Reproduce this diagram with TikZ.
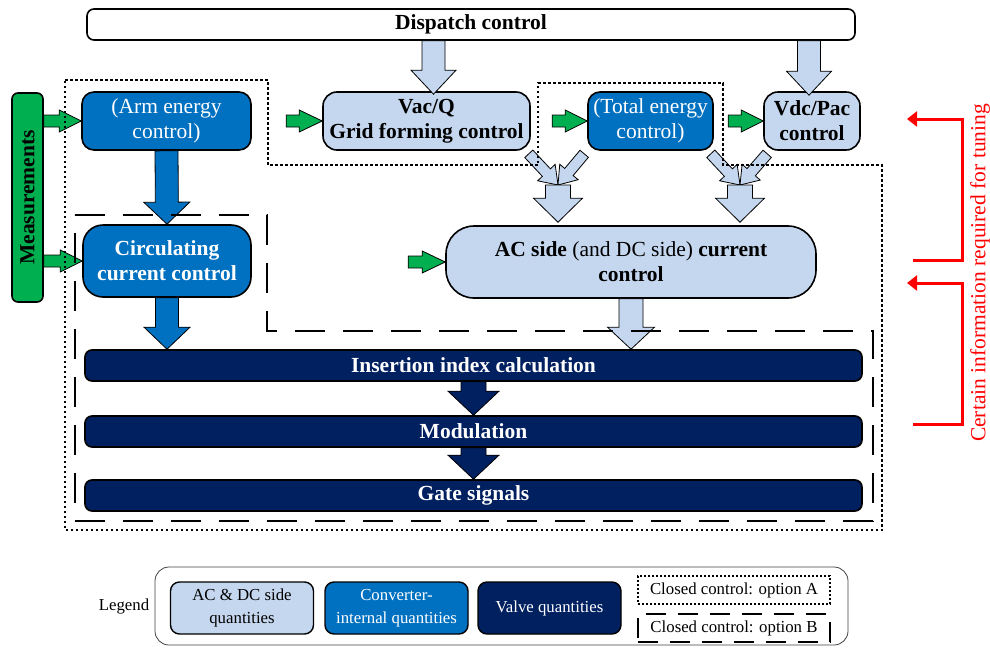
\documentclass[tikz,border=0pt]{standalone}
\usepackage{fontspec}
\usepackage{graphicx}
\setmainfont{Liberation Serif}
\usetikzlibrary{calc,arrows.meta}

\definecolor{acblue}{HTML}{C5D7EF}
\definecolor{convblue}{HTML}{0070C0}
\definecolor{valvenavy}{HTML}{002060}
\definecolor{measgreen}{HTML}{00B050}

\newcommand{\bigfont}{\fontsize{21.5}{25}\selectfont}
\newcommand{\legfont}{\fontsize{16.8}{23}\selectfont}

% block arrow: style, from, to, half shaft, half head, head length
\newcommand{\blockarrow}[6]{%
  \path (#2) coordinate (ba-s) (#3) coordinate (ba-e);
  \path ($(ba-e)!#6!(ba-s)$) coordinate (ba-h);
  \draw[#1] ($(ba-s)!#4!90:(ba-e)$) -- ($(ba-h)!#4!-90:(ba-s)$) -- ($(ba-h)!#5!-90:(ba-s)$)
    -- (ba-e) -- ($(ba-h)!#5!90:(ba-s)$) -- ($(ba-h)!#4!90:(ba-s)$) -- ($(ba-s)!#4!-90:(ba-e)$) -- cycle;
}

\tikzset{
  ctrlbox/.style={draw, line width=1.6pt, align=center, inner sep=2pt},
  acbox/.style={ctrlbox, fill=acblue, font=\bigfont\bfseries},
  convbox/.style={ctrlbox, fill=convblue, text=white, font=\bigfont},
  valvebox/.style={ctrlbox, fill=valvenavy, text=white, font=\bigfont\bfseries,
    rounded corners=7pt, minimum width=777pt, minimum height=31pt},
  acarrow/.style={draw, line width=0.8pt, fill=acblue},
  convarrow/.style={draw, line width=0.8pt, fill=convblue},
  valvearrow/.style={draw, line width=0.8pt, fill=valvenavy},
  measarrow/.style={draw, line width=0.8pt, fill=measgreen},
  optA/.style={line width=1.6pt, dash pattern=on 2.5pt off 2.5pt},
  optB/.style={line width=1.8pt, dash pattern=on 30pt off 18pt},
  tunearrow/.style={red, line width=3pt, -{Triangle[length=10pt,width=15pt]}},
  legbox/.style={draw, line width=1.4pt, rounded corners=9pt, align=center,
    minimum width=143pt, minimum height=52pt, font=\legfont, inner sep=1pt},
}

\begin{document}
\begin{tikzpicture}[x=1pt,y=-1pt]
 \useasboundingbox (0,0) rectangle (990,648);
 % control blocks
 \node[ctrlbox, fill=white, rounded corners=7pt, minimum width=768pt, minimum height=31pt, font=\bigfont\bfseries] (disp) at (471,24.5) {Dispatch control};
 \node[ctrlbox, fill=measgreen, rounded corners=6pt, minimum width=31pt, minimum height=209pt, font=\bigfont\bfseries] (meas) at (27.5,197.5) {\rotatebox{90}{Measurements}};
 \node[convbox, rounded corners=12pt, minimum width=169pt, minimum height=58pt] (arm) at (166.5,121) {(Arm energy\\control)};
 \node[acbox, rounded corners=14pt, minimum width=207pt, minimum height=58pt] (vacq) at (426.5,121) {Vac/Q\\Grid forming control};
 \node[convbox, rounded corners=12pt, minimum width=125pt, minimum height=58pt] (total) at (650.5,121) {(Total energy\\control)};
 \node[acbox, rounded corners=14pt, minimum width=96pt, minimum height=58pt] (vdcpac) at (812,121) {Vdc/Pac\\control};
 \node[convbox, font=\bigfont\bfseries, rounded corners=20pt, minimum width=168pt, minimum height=72pt] (circ) at (167,261) {Circulating\\current control};
 \node[acbox, font=\bigfont, rounded corners=28pt, minimum width=370pt, minimum height=72pt] (ac) at (631,262) {\textbf{AC side} (and DC side) \textbf{current}\\\textbf{control}};
 \node[valvebox] (ins) at (473.5,365.5) {Insertion index calculation};
 \node[valvebox] (mod) at (473.5,431.5) {Modulation};
 \node[valvebox] (gate) at (473.5,495.5) {Gate signals};

 % block arrows
 \blockarrow{acarrow}{$(disp.south -| vacq.north)+(7,0)$}{$(vacq.north)+(7,3)$}{11.5pt}{22.5pt}{24pt}
 \blockarrow{acarrow}{$(disp.south -| vdcpac.north)+(-3,0)$}{$(vdcpac.north)+(-3,4)$}{11.5pt}{22.5pt}{24pt}
 \blockarrow{convarrow}{arm.south}{circ.north}{11.5pt}{23pt}{22pt}
 \blockarrow{convarrow}{circ.south}{circ.south |- ins.north}{11.5pt}{23pt}{22pt}
 \blockarrow{acarrow}{ac.south}{ac.south |- ins.north}{12pt}{23.5pt}{22pt}
 \blockarrow{valvearrow}{ins.south}{mod.north}{12.5pt}{25.5pt}{24pt}
 \blockarrow{valvearrow}{mod.south}{gate.north}{12.5pt}{25.5pt}{24pt}

 \coordinate (m1) at (558,185);
 \coordinate (m2) at (740,185);
 \blockarrow{acarrow}{$(vacq.south east)+(-2,3)$}{m1}{5.5pt}{12pt}{17pt}
 \blockarrow{acarrow}{$(total.south west)+(-3,3)$}{m1}{5.5pt}{12pt}{17pt}
 \blockarrow{acarrow}{$(total.south east)+(-3,3)$}{m2}{5.5pt}{12pt}{17pt}
 \blockarrow{acarrow}{$(vdcpac.south west)+(4,3)$}{m2}{5.5pt}{12pt}{17pt}
 \blockarrow{acarrow}{m1}{$(m1 |- ac.north)+(0,-3)$}{12.5pt}{24.5pt}{24pt}
 \blockarrow{acarrow}{m2}{$(m2 |- ac.north)+(0,-3)$}{12.5pt}{24.5pt}{24pt}

 % measurement arrows
 \blockarrow{measarrow}{meas.east |- arm.west}{arm.west}{6pt}{11pt}{22pt}
 \blockarrow{measarrow}{meas.east |- circ.west}{circ.west}{6pt}{11pt}{22pt}
 \blockarrow{measarrow}{$(vacq.west)+(-36,0)$}{vacq.west}{6pt}{11pt}{23pt}
 \blockarrow{measarrow}{$(total.west)+(-35,0)$}{total.west}{6pt}{11pt}{22pt}
 \blockarrow{measarrow}{$(vdcpac.west)+(-35,0)$}{vdcpac.west}{6pt}{11pt}{22pt}
 \blockarrow{measarrow}{$(ac.west)+(-37,0)$}{ac.west}{6pt}{11pt}{23pt}

 % closed control options
 \draw[optA] (65,80) -- (268,80) -- (268,165) -- (538,165) -- (538,83) -- (723,83) -- (723,165)
   -- (882,165) -- (882,530) -- (65,530) -- cycle;
 \draw[optB] (75,215) -- (267,215) -- (267,331) -- (873,331) -- (873,521) -- (75,521) -- cycle;

 % tuning information
 \coordinate (t1) at (913,260);
 \coordinate (t2) at (913,424);
 \draw[tunearrow] (t1) -| (962,119) -- (907,119);
 \draw[tunearrow] (t2) -| (962,283) -- (907,283);
 \node[text=red, font=\bigfont, rotate=90] (tune) at (980,273) {Certain information required for tuning};

 % legend
 \draw[line width=0.8pt, draw=black!75, rounded corners=14pt] (155,567) rectangle (848,645);
 \node[font=\legfont] (leg) at (124,606) {Legend};
 \node[legbox, fill=acblue] (lg1) at (242,608) {AC \& DC side\\quantities};
 \node[legbox, fill=convblue, text=white] (lg2) at (396.5,608) {Converter-\\internal quantities};
 \node[legbox, fill=valvenavy, text=white] (lg3) at (549.5,608) {Valve quantities};
 \node[draw, line width=1.4pt, dash pattern=on 2pt off 2pt, minimum width=192pt, minimum height=28pt, font=\legfont, inner sep=1pt] (lgA) at (734,590) {Closed control: option A};
 \node[draw, line width=1.4pt, dash pattern=on 20pt off 12pt, minimum width=192pt, minimum height=28pt, font=\legfont, inner sep=1pt] (lgB) at (734,628) {Closed control: option B};
\end{tikzpicture}
\end{document}
